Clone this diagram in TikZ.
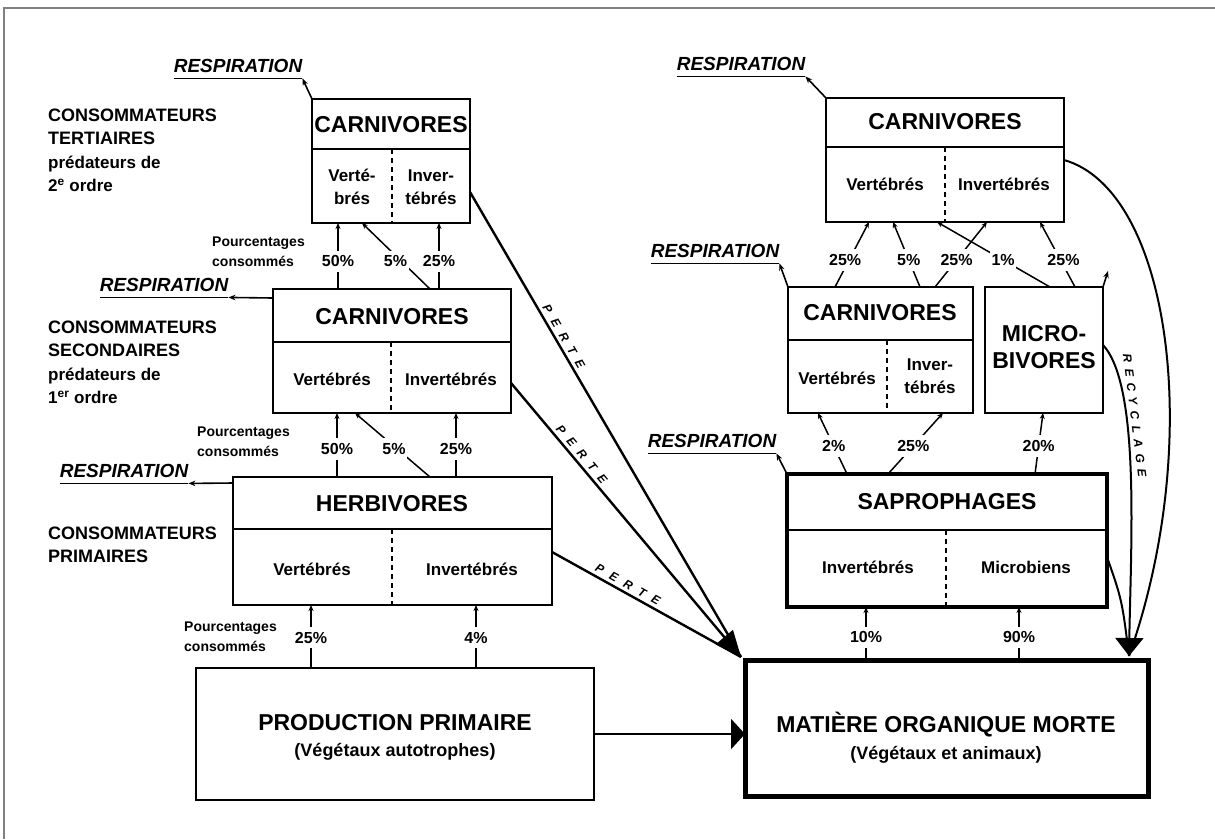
\documentclass[tikz,border=0pt]{standalone}
\usepackage{fontspec}
\setmainfont{Liberation Sans}
\usetikzlibrary{arrows.meta}

% A box with a title band and a dashed split of its lower part
% #1 name, #2 x, #3 y, #4 width, #5 height, #6 band height, #7 split offset, #8 extra style
\newcommand{\cellbox}[8]{%
  \node[box,minimum width=#4pt,minimum height=#5pt,#8] (#1) at (#2,#3) {};
  \draw[rule] ([yshift=-#6pt]#1.north west) -- ([yshift=-#6pt]#1.north east);
  \draw[divider] ([xshift=#7pt,yshift=-#6pt]#1.north west) -- ([xshift=#7pt]#1.south west);
}
\newcommand{\lowlinefont}{\fontsize{17}{23.5}\selectfont}
\newcommand{\perteword}{P\kern8ptE\kern8ptR\kern8ptT\kern8ptE}

\tikzset{
  box/.style={draw, line width=2.6pt, rectangle, anchor=north west, inner sep=0pt, outer sep=0pt},
  rule/.style={line width=2.2pt},
  divider/.style={line width=1.8pt, dash pattern=on 5pt off 4pt},
  title/.style={font=\fontsize{23}{27}\selectfont\bfseries, align=center, inner sep=0pt},
  sub/.style={font=\fontsize{17}{23}\selectfont\bfseries, align=center, inner sep=0pt},
  subt/.style={font=\fontsize{18}{22}\selectfont\bfseries, inner sep=0pt},
  pct/.style={font=\fontsize{16}{18}\selectfont\bfseries, fill=white, inner xsep=1.5pt, inner ysep=5pt},
  pa/.style={line width=1.5pt, -{Stealth[length=6pt,width=5pt]}},
  resp/.style={font=\fontsize{19}{22}\selectfont\bfseries\itshape, inner xsep=0pt, inner ysep=5.5pt},
  uline/.style={line width=1.8pt},
  ra/.style={line width=1.6pt, -{Stealth[length=7pt,width=5.5pt]}},
  side/.style={font=\fontsize{18}{23.5}\selectfont\bfseries, align=left, anchor=north west, inner sep=0pt},
  pcs/.style={font=\fontsize{14}{20}\selectfont\bfseries, align=left, anchor=north west, inner sep=0pt},
  perte/.style={line width=2.4pt},
  losslbl/.style={font=\fontsize{12}{12}\selectfont\bfseries\itshape, sloped, above=3pt, inner sep=0pt},
  recy/.style={line width=2pt},
}

\begin{document}
\begin{tikzpicture}[x=1pt,y=-1pt]
\useasboundingbox (0,0) rectangle (1215,839);
\fill[white] (0,0) rectangle (1215,839);
\draw[line width=1.6pt, black!50] (4,839) -- (4,8) -- (1215,8);

% ---------- grazing chain ----------
\cellbox{T3}{312}{99}{158}{124}{50}{80}{}
\node[title] (T3t) at (391,125) {CARNIVORES};
\node[sub] (T3a) at (352,187) {Verté-\\brés};
\node[sub] (T3b) at (431,187) {Inver-\\tébrés};

\cellbox{S2}{273}{289}{238}{124}{53}{118}{}
\node[title] (S2t) at (392,317) {CARNIVORES};
\node[sub] (S2a) at (332,379) {Vertébrés};
\node[sub] (S2b) at (451,379) {Invertébrés};

\cellbox{H}{233}{477}{319}{128}{52}{159}{}
\node[title] (Ht) at (392,504) {HERBIVORES};
\node[sub] (Ha) at (312,569) {Vertébrés};
\node[sub] (Hb) at (472,569) {Invertébrés};

\node[box, minimum width=398pt, minimum height=132pt] (PP) at (196,668) {};
\node[title] (PPt) at (395,723) {PRODUCTION PRIMAIRE};
\node[subt] (PPs) at (395,752) {(Végétaux autotrophes)};

% ---------- detritus chain ----------
\cellbox{RC3}{826}{98}{238}{124}{49}{119}{}
\node[title] (RC3t) at (945,122) {CARNIVORES};
\node[sub] (RC3a) at (885,184) {Vertébrés};
\node[sub] (RC3b) at (1004,184) {Invertébrés};

\cellbox{RC2}{788}{287}{185}{126}{53}{99}{}
\node[title] (RC2t) at (880,313) {CARNIVORES};
\node[sub] (RC2a) at (837,378) {Vertébrés};
\node[sub] (RC2b) at (930,376) {Inver-\\tébrés};

\node[box, minimum width=118pt, minimum height=126pt] (MB) at (985,287) {};
\node[title] (MBt) at (1044,347) {MICRO-\\BIVORES};

\cellbox{SAP}{787}{474}{320}{133}{56}{159}{line width=3.6pt}
\node[title] (SAPt) at (947,502) {SAPROPHAGES};
\node[sub] (SAPa) at (868,567) {Invertébrés};
\node[sub] (SAPb) at (1026,567) {Microbiens};

\node[box, line width=5pt, minimum width=403pt, minimum height=136pt] (MOM) at (745,660) {};
\node[title] (MOMt) at (946,725) {MATIÈRE ORGANIQUE MORTE};
\node[subt] (MOMs) at (946,755) {(Végétaux et animaux)};

% ---------- trophic level labels ----------
\node[side] (cT) at (48,108.5) {CONSOMMATEURS\\TERTIAIRES\\{\lowlinefont prédateurs de}\\{\lowlinefont 2\textsuperscript{e} ordre}};
\node[side] (cS) at (48,320.5) {CONSOMMATEURS\\SECONDAIRES\\{\lowlinefont prédateurs de}\\{\lowlinefont 1\textsuperscript{er} ordre}};
\node[side] (cP) at (48,526.5) {CONSOMMATEURS\\PRIMAIRES};

\node[pcs] (pc1) at (212,236.5) {Pourcentages\\consommés};
\node[pcs] (pc2) at (197,426.5) {Pourcentages\\consommés};
\node[pcs] (pc3) at (184,622) {Pourcentages\\consommés};

% ---------- consumption flows ----------
\draw[pa] ([xshift=65pt]S2.north west) -- node[pct,pos=.42] (q1) {50\%} ([xshift=26pt]T3.south west);
\draw[pa] ([xshift=157pt]S2.north west) -- node[pct,pos=.42,xshift=-6pt] (q2) {5\%} ([xshift=50pt]T3.south west);
\draw[pa] ([xshift=166pt]S2.north west) -- node[pct,pos=.42] (q3) {25\%} ([xshift=127pt]T3.south west);

\draw[pa] ([xshift=104pt]H.north west) -- node[pct,pos=.44] (q4) {50\%} ([xshift=64pt]S2.south west);
\draw[pa] ([xshift=197pt]H.north west) -- node[pct,pos=.44,xshift=-3pt] (q5) {5\%} ([xshift=82pt]S2.south west);
\draw[pa] ([xshift=223pt]H.north west) -- node[pct,pos=.44] (q6) {25\%} ([xshift=183pt]S2.south west);

\draw[pa] ([xshift=115pt]PP.north west) -- node[pct,pos=.48] (q7) {25\%} ([xshift=78pt]H.south west);
\draw[pa] ([xshift=280pt]PP.north west) -- node[pct,pos=.48] (q8) {4\%} ([xshift=243pt]H.south west);

\draw[pa] ([xshift=47pt]RC2.north west) -- node[pct,pos=.415,xshift=-4pt] (q9) {25\%} ([xshift=43pt]RC3.south west);
\draw[pa] ([xshift=132pt]RC2.north west) -- node[pct,pos=.415] (q10) {5\%} ([xshift=67pt]RC3.south west);
\draw[pa] ([xshift=147pt]RC2.north west) -- node[pct,pos=.415] (q11) {25\%} ([xshift=161pt]RC3.south west);
\draw[pa] ([xshift=65pt]MB.north west) -- node[pct,pos=.415] (q12) {1\%} ([xshift=111pt]RC3.south west);
\draw[pa] ([xshift=90pt]MB.north west) -- node[pct,pos=.415,xshift=3pt] (q13) {25\%} ([xshift=214pt]RC3.south west);

\draw[pa] ([xshift=60pt]SAP.north west) -- node[pct,pos=.46] (q14) {2\%} ([xshift=30pt]RC2.south west);
\draw[pa] ([xshift=101pt]SAP.north west) -- node[pct,pos=.46] (q15) {25\%} ([xshift=155pt]RC2.south west);
\draw[pa] ([xshift=248pt]SAP.north west) -- node[pct,pos=.46] (q16) {20\%} ([xshift=58pt]MB.south west);

\draw[pa] ([xshift=121pt]MOM.north west) -- node[pct,pos=.43] (q17) {10\%} ([xshift=79pt]SAP.south west);
\draw[pa] ([xshift=274pt]MOM.north west) -- node[pct,pos=.43] (q18) {90\%} ([xshift=232pt]SAP.south west);

% ---------- respiration ----------
\node[resp] (rT3) at (238,66) {RESPIRATION};
\draw[uline] (rT3.south west) -- (rT3.south east);
\draw[ra] (T3.north west) -- (rT3.south east);

\node[resp] (rS2) at (164,285) {RESPIRATION};
\draw[uline] (rS2.south west) -- (rS2.south east);
\draw[ra] ([yshift=-9pt]S2.north west) -- (rS2.south east);

\node[resp] (rH) at (124,471) {RESPIRATION};
\draw[uline] (rH.south west) -- (rH.south east);
\draw[ra] ([yshift=-6pt]H.north west) -- (rH.south east);

\node[resp] (rRC3) at (741,64) {RESPIRATION};
\draw[uline] (rRC3.south west) -- (rRC3.south east);
\draw[ra] (RC3.north west) -- (rRC3.south east);

\node[resp] (rRC2) at (715,251) {RESPIRATION};
\draw[uline] (rRC2.south west) -- (rRC2.south east);
\draw[ra] (RC2.north west) -- (rRC2.south east);

\node[resp] (rSAP) at (712,441) {RESPIRATION};
\draw[uline] (rSAP.south west) -- (rSAP.south east);
\draw[ra] (SAP.north west) -- (rSAP.south east);

\coordinate (rMB) at (1108,271);
\draw[ra] (MB.north east) -- (rMB);

% ---------- losses to dead organic matter ----------
\coordinate (lossink) at (741,657);
\draw[perte] ([yshift=-93pt]T3.north east) -- node[losslbl,pos=.32] (l1) {\perteword} (lossink);
\draw[perte] ([yshift=-75pt]H.north east) -- node[losslbl,pos=.38] (l3) {\perteword} (lossink);
\draw[perte, -{Triangle[length=26pt,width=22pt]}] ([yshift=-94pt]S2.north east) -- node[losslbl,pos=.28] (l2) {\perteword} (lossink);

\draw[line width=2.4pt, -{Triangle[length=14pt,width=30pt]}] (PP.east) -- (PP.east -| MOM.west);

% ---------- recycling ----------
\coordinate (recsink) at (1129,656);
\draw[recy] ([yshift=-62pt]RC3.north east) .. controls (1170,190) and (1205,440) .. (recsink);
\draw[recy] ([yshift=-83pt]SAP.north east) .. controls (1122,600) .. (recsink);
\draw[recy, -{Triangle[length=18pt,width=28pt]}] ([yshift=5pt]MB.east) .. controls (1140,385) and (1131,540) .. node[losslbl,pos=.33] (rl) {R\kern6ptE\kern6ptC\kern6ptY\kern6ptC\kern6ptL\kern6ptA\kern6ptG\kern6ptE} (recsink);

\end{tikzpicture}
\end{document}
